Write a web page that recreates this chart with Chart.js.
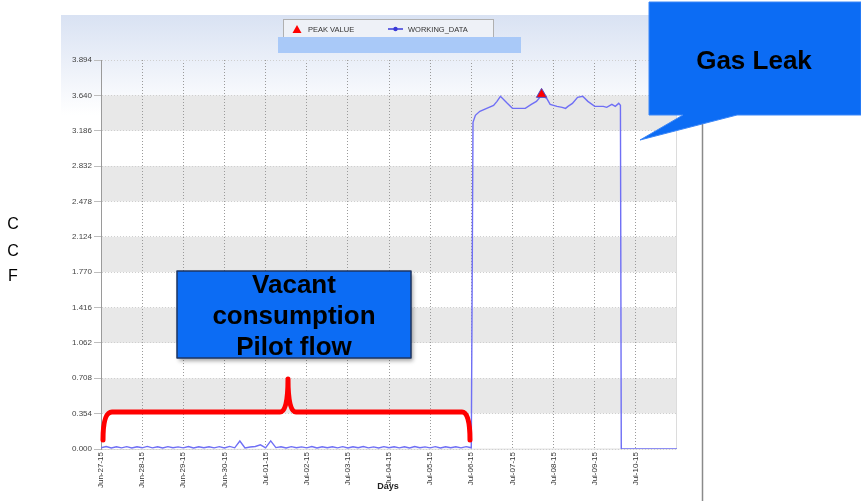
<!DOCTYPE html>
<html>
<head>
<meta charset="utf-8">
<script src="https://cdn.jsdelivr.net/npm/chart.js@4/dist/chart.umd.min.js"></script>
<style>
    html, body {margin: 0; padding: 0; background: #fff;}
    #wrap {position: relative; width: 861px; height: 501px;}
</style>
</head>
<body>
<div id="wrap"><canvas id="ccfChart" width="861" height="501"></canvas></div>
<script>
// Метки оси X (дни)
const dayLabels = ['Jun-27-15', 'Jun-28-15', 'Jun-29-15', 'Jun-30-15', 'Jul-01-15', 'Jul-02-15', 'Jul-03-15',
    'Jul-04-15', 'Jul-05-15', 'Jul-06-15', 'Jul-07-15', 'Jul-08-15', 'Jul-09-15', 'Jul-10-15'];

// Деления оси Y как на картинке (подпись 3.640 оставлена как в оригинале)
const yTickValues = [0, 0.354, 0.708, 1.062, 1.416, 1.770, 2.124, 2.478, 2.832, 3.186, 3.540, 3.894];
const yTickLabels = ['0.000', '0.354', '0.708', '1.062', '1.416', '1.770', '2.124', '2.478', '2.832', '3.186', '3.640', '3.894'];

// Пилотный расход: замер каждые 3 часа, с Jun-27 00:00 до Jul-06 00:00
const pilotHours = [0, 3, 6, 9, 12, 15, 18, 21, 24, 27, 30, 33, 36, 39, 42, 45, 48, 51, 54, 57, 60, 63, 66, 69,
    72, 75, 78, 81, 84, 87, 90, 93, 96, 99, 102, 105, 108, 111, 114, 117, 120, 123, 126, 129, 132, 135, 138, 141,
    144, 147, 150, 153, 156, 159, 162, 165, 168, 171, 174, 177, 180, 183, 186, 189, 192, 195, 198, 201, 204, 207,
    210, 213, 216];
const pilotCcf = [0.012, 0.025, 0.010, 0.022, 0.011, 0.024, 0.010, 0.023, 0.012, 0.026, 0.011, 0.022, 0.010, 0.024,
    0.012, 0.021, 0.011, 0.025, 0.010, 0.023, 0.012, 0.022, 0.011, 0.024, 0.010, 0.026, 0.012, 0.080, 0.011, 0.020,
    0.025, 0.042, 0.012, 0.082, 0.014, 0.022, 0.010, 0.024, 0.012, 0.021, 0.011, 0.025, 0.010, 0.023, 0.012, 0.022,
    0.011, 0.024, 0.010, 0.022, 0.012, 0.025, 0.011, 0.021, 0.010, 0.024, 0.012, 0.023, 0.011, 0.022, 0.010, 0.025,
    0.012, 0.021, 0.011, 0.024, 0.010, 0.023, 0.012, 0.022, 0.011, 0.024, 0.012];

// Утечка газа: Jul-06 .. Jul-09, затем ноль
const leakHours = [217, 218.4, 221, 225, 229, 231, 233, 237, 240, 244, 247.5, 251, 254, 257, 260, 262, 266, 269,
    271, 272.4, 275, 278, 281, 284, 288, 293, 295, 298, 300, 302, 303, 303.5, 336];
const leakCcf = [3.27, 3.34, 3.38, 3.41, 3.44, 3.48, 3.53, 3.46, 3.41, 3.41, 3.41, 3.45, 3.48, 3.54, 3.51, 3.45,
    3.43, 3.42, 3.41, 3.43, 3.46, 3.52, 3.53, 3.48, 3.43, 3.43, 3.42, 3.45, 3.43, 3.46, 3.44, 0, 0];

// Пиковое значение
const peakHour = 257;
const peakCcf = 3.55;

const workingData = pilotHours.map((h, i) => ({x: h, y: pilotCcf[i]}))
    .concat(leakHours.map((h, i) => ({x: h, y: leakCcf[i]})));

// Фон панели, серые полосы и правая граница
const backgroundPlugin = {
    id: 'panelBackground',
    beforeDraw(chart) {
        const ctx = chart.ctx;
        const area = chart.chartArea;
        const y = chart.scales.y;
        ctx.save();
        const grad = ctx.createLinearGradient(0, 15, 0, 115);
        grad.addColorStop(0, '#d9e2f3');
        grad.addColorStop(1, '#ffffff');
        ctx.fillStyle = grad;
        ctx.fillRect(61, 15, 642, 486);

        // Полосы между делениями 1-2, 3-4, 5-6, 7-8, 9-10
        ctx.fillStyle = '#e8e8e8';
        for (let i = 1; i < yTickValues.length - 1; i += 2) {
            const top = y.getPixelForValue(yTickValues[i + 1]);
            const bottom = y.getPixelForValue(yTickValues[i]);
            ctx.fillRect(area.left, top, area.right - area.left, bottom - top);
        }
        // Нижняя белая полоса
        ctx.fillStyle = '#ffffff';
        const b0 = y.getPixelForValue(yTickValues[1]);
        ctx.fillRect(area.left, b0, area.right - area.left, area.bottom - b0);

        // Правая рамка области графика
        ctx.strokeStyle = '#dcdcdc';
        ctx.lineWidth = 1;
        ctx.beginPath();
        ctx.moveTo(area.right - 0.5, area.top);
        ctx.lineTo(area.right - 0.5, area.bottom);
        ctx.lineTo(area.left, area.bottom + 0.5);
        ctx.stroke();

        // Тёмная вертикальная линия справа
        ctx.strokeStyle = '#8a8a8a';
        ctx.lineWidth = 1.5;
        ctx.beginPath();
        ctx.moveTo(702.5, 15);
        ctx.lineTo(702.5, 501);
        ctx.stroke();
        ctx.restore();
    }
};

// Легенда, подписи и выноски
const overlayPlugin = {
    id: 'overlay',
    afterDraw(chart) {
        const ctx = chart.ctx;
        ctx.save();

        // Легенда
        ctx.strokeStyle = '#b0b0b0';
        ctx.lineWidth = 1;
        ctx.fillStyle = '#eef1f7';
        ctx.fillRect(283.5, 19.5, 210, 22);
        ctx.strokeRect(283.5, 19.5, 210, 22);
        ctx.fillStyle = '#ff0000';
        ctx.beginPath();
        ctx.moveTo(297, 25);
        ctx.lineTo(301.5, 33);
        ctx.lineTo(292.5, 33);
        ctx.closePath();
        ctx.fill();
        ctx.strokeStyle = '#3a3ad8';
        ctx.lineWidth = 1.5;
        ctx.beginPath();
        ctx.moveTo(388, 29);
        ctx.lineTo(403, 29);
        ctx.stroke();
        ctx.fillStyle = '#3a3ad8';
        ctx.beginPath();
        ctx.arc(395.5, 29, 2.2, 0, Math.PI * 2);
        ctx.fill();
        ctx.fillStyle = '#333';
        ctx.font = '7.5px "Liberation Sans", Arial, sans-serif';
        ctx.textAlign = 'left';
        ctx.textBaseline = 'alphabetic';
        ctx.fillText('PEAK VALUE', 308, 32);
        ctx.fillText('WORKING_DATA', 408, 32);

        // Голубая плашка под легендой
        ctx.fillStyle = '#a9c9f8';
        ctx.fillRect(278, 37, 243, 16);

        // Подпись оси X
        ctx.fillStyle = '#222';
        ctx.font = 'bold 9px "Liberation Sans", Arial, sans-serif';
        ctx.textAlign = 'center';
        ctx.fillText('Days', 388, 489);

        // CCF слева
        ctx.fillStyle = '#000';
        ctx.font = '16px "Liberation Sans", Arial, sans-serif';
        ctx.fillText('C', 13, 229);
        ctx.fillText('C', 13, 256);
        ctx.fillText('F', 13, 281);

        // Красная фигурная скобка
        ctx.strokeStyle = '#ff0000';
        ctx.lineWidth = 5;
        ctx.lineCap = 'round';
        ctx.lineJoin = 'round';
        ctx.beginPath();
        ctx.moveTo(103, 440);
        ctx.quadraticCurveTo(103, 412, 112, 412);
        ctx.lineTo(280, 412);
        ctx.quadraticCurveTo(288, 412, 288, 379);
        ctx.quadraticCurveTo(288, 412, 296, 412);
        ctx.lineTo(462, 412);
        ctx.quadraticCurveTo(470, 412, 470, 440);
        ctx.stroke();

        // Выноска "Vacant consumption Pilot flow"
        ctx.shadowColor = 'rgba(0,0,0,0.35)';
        ctx.shadowOffsetX = 2;
        ctx.shadowOffsetY = 3;
        ctx.shadowBlur = 4;
        ctx.fillStyle = '#0c6cf4';
        ctx.fillRect(177, 271, 234, 87);
        ctx.shadowColor = 'transparent';
        ctx.strokeStyle = '#1d3461';
        ctx.lineWidth = 1.5;
        ctx.lineCap = 'butt';
        ctx.strokeRect(177, 271, 234, 87);
        ctx.fillStyle = '#000';
        ctx.font = 'bold 26px "Liberation Sans", Arial, sans-serif';
        ctx.textAlign = 'center';
        ctx.fillText('Vacant', 294, 293);
        ctx.fillText('consumption', 294, 324);
        ctx.fillText('Pilot flow', 294, 355);

        // Выноска "Gas Leak"
        ctx.fillStyle = '#0c6cf4';
        ctx.beginPath();
        ctx.moveTo(649, 2);
        ctx.lineTo(861, 2);
        ctx.lineTo(861, 115);
        ctx.lineTo(737, 115);
        ctx.lineTo(640, 140);
        ctx.lineTo(683, 115);
        ctx.lineTo(649, 115);
        ctx.closePath();
        ctx.fill();
        ctx.strokeStyle = '#3b86f7';
        ctx.lineWidth = 1;
        ctx.stroke();
        ctx.fillStyle = '#000';
        ctx.font = 'bold 26px "Liberation Sans", Arial, sans-serif';
        ctx.fillText('Gas Leak', 754, 69);

        ctx.restore();
    }
};

const ctx = document.getElementById('ccfChart').getContext('2d');
new Chart(ctx, {
    type: 'line',
    data: {
        datasets: [{
            label: 'PEAK VALUE',
            type: 'scatter',
            data: [{x: peakHour, y: peakCcf}],
            pointStyle: 'triangle',
            pointRadius: 6,
            backgroundColor: '#ff0000',
            borderColor: '#5050c8',
            borderWidth: 1,
            order: 0
        }, {
            label: 'WORKING_DATA',
            data: workingData,
            borderColor: '#6f6ff5',
            borderWidth: 1.4,
            pointRadius: 0,
            tension: 0,
            fill: false,
            order: 1
        }]
    },
    options: {
        responsive: false,
        animation: false,
        events: [],
        layout: {padding: {left: 0, top: 60, right: 184, bottom: 0}},
        plugins: {
            legend: {display: false},
            tooltip: {enabled: false}
        },
        scales: {
            x: {
                type: 'linear',
                min: 0,
                max: 336,
                afterBuildTicks: (scale) => {
                    scale.ticks = dayLabels.map((d, i) => ({value: i * 24}));
                },
                afterFit: (scale) => {
                    scale.height = 52;
                },
                ticks: {
                    autoSkip: false,
                    minRotation: 90,
                    maxRotation: 90,
                    padding: 3,
                    color: '#333',
                    font: {size: 8, family: '"Liberation Sans", Arial, sans-serif'},
                    callback: (value, index) => dayLabels[index]
                },
                grid: {
                    color: '#9a9a9a',
                    lineWidth: 1,
                    drawTicks: false,
                    tickBorderDash: [1, 2]
                },
                border: {display: false, dash: [1, 2]}
            },
            y: {
                type: 'linear',
                min: 0,
                max: 3.894,
                afterBuildTicks: (scale) => {
                    scale.ticks = yTickValues.map(v => ({value: v}));
                },
                afterFit: (scale) => {
                    scale.width = 101;
                },
                ticks: {
                    autoSkip: false,
                    padding: 2,
                    color: '#444',
                    font: {size: 8, family: '"Liberation Sans", Arial, sans-serif'},
                    callback: (value, index) => yTickLabels[index]
                },
                grid: {
                    color: '#cfcfcf',
                    lineWidth: 1,
                    tickLength: 7,
                    tickColor: '#bdbdbd'
                },
                border: {display: true, color: '#9a9a9a', dash: [1, 2]}
            }
        }
    },
    plugins: [backgroundPlugin, overlayPlugin]
});
</script>
</body>
</html>
